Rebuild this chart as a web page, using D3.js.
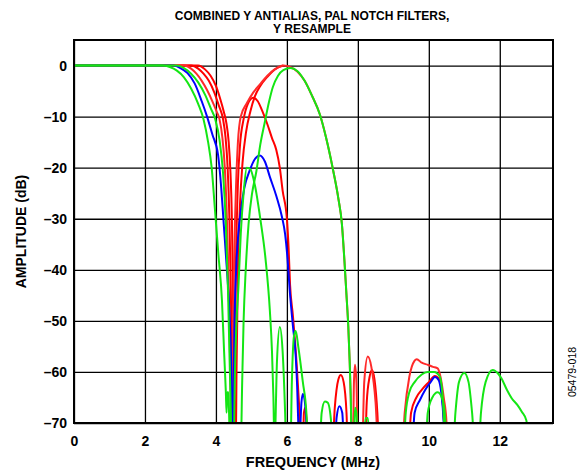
<!DOCTYPE html>
<meta charset="utf-8">
<style>
  body { margin: 0; background: #fff; }
  text { font-family: "Liberation Sans", Arial, sans-serif; }
</style>
<body>
  <div id="chart"></div>
</body>
<script src="https://cdn.jsdelivr.net/npm/d3@7"></script>
<script>
  var svg_width = 581,
      svg_height = 470;

  // tick values
  const freqTicks = [0, 2, 4, 6, 8, 10, 12];
  const dbTicks = [0, -10, -20, -30, -40, -50, -60, -70];

  // curves: [MHz, dB]  (points below -70 are clipped)
  const greenA = [[0,0],[2.5,0],[2.7,-0.3],[2.9,-1],[3.1,-2.3],[3.3,-4.5],[3.5,-7.5],[3.65,-10.5],[3.78,-15],[3.88,-20],
    [3.97,-28],[4.07,-37],[4.17,-46],[4.23,-56],[4.28,-64],[4.3,-68],[4.32,-64],[4.35,-64],[4.37,-68],[4.4,-75],
    [4.5,-75],[4.53,-62],[4.58,-50],[4.63,-44],[4.7,-33],[4.78,-25],[4.87,-20],[4.97,-20.3],[5.1,-23.5],[5.25,-30],
    [5.4,-38],[5.52,-48],[5.58,-56],[5.62,-65],[5.65,-75],
    [5.67,-72],[5.72,-58],[5.8,-51.2],[5.88,-56],[5.95,-68],[5.98,-75],
    [6.1,-75],[6.14,-62],[6.2,-53],[6.25,-52],[6.32,-55],[6.45,-62],[6.55,-68],[6.6,-75],
    [6.92,-75],[6.98,-68],[7.07,-65.8],[7.15,-66],[7.25,-70],[7.3,-75],
    [8.15,-75],[8.22,-69],[8.28,-69],[8.35,-75],
    [9.9,-75],[9.97,-68],[10.1,-65],[10.25,-64],[10.4,-65.8],[10.47,-70],[10.5,-75]];

  const greenB = [[0,0],[2.9,0],[3.1,-0.5],[3.3,-1.6],[3.5,-3.3],[3.7,-5.8],[3.85,-8.3],[3.98,-10.5],[4.1,-14.5],[4.2,-21],
    [4.28,-31],[4.34,-44],[4.38,-56],[4.42,-68],[4.44,-75],
    [4.7,-75],[4.74,-62],[4.78,-50],[4.84,-40],[4.92,-31],[5.02,-25],[5.14,-20.7],[5.25,-15.5],[5.38,-11],[5.5,-7],
    [5.6,-4.3],[5.75,-2],[5.9,-0.9],[6.1,-0.5],[6.3,-1.1],[6.5,-3],[6.7,-5.8],[6.93,-9.6],[7.1,-14],[7.3,-20.4],
    [7.45,-26],[7.55,-31],[7.62,-38],[7.68,-45],[7.73,-51],[7.77,-58],[7.8,-65],[7.83,-75],
    [7.88,-75],[7.92,-67],[7.96,-68],[8.0,-75],
    [9.28,-75],[9.35,-68],[9.45,-64],[9.6,-62],[9.8,-60.5],[9.97,-60],[10.15,-60],[10.3,-60.8],[10.38,-64],[10.43,-70],[10.46,-75],
    [10.68,-75],[10.75,-68],[10.85,-62],[11.0,-60.2],[11.12,-62],[11.22,-68],[11.3,-75],
    [11.4,-75],[11.47,-68],[11.6,-62],[11.8,-59.6],[11.95,-60.3],[12.05,-61.3],[12.2,-63.5],[12.34,-65.2],[12.5,-66.5],
    [12.62,-67.8],[12.75,-69.5],[12.8,-75]];

  const blueA = [[0,0],[2.8,0],[3.0,-0.5],[3.2,-1.5],[3.4,-3.5],[3.6,-7],[3.75,-10],[3.9,-13.5],[4.06,-17.5],[4.15,-24],
    [4.22,-31],[4.3,-39],[4.38,-48],[4.43,-58],[4.46,-68],[4.48,-75],[4.5,-66],[4.52,-52],[4.57,-40],[4.63,-33],
    [4.7,-28.5],[4.8,-24],[4.96,-20.4],[5.1,-18.3],[5.24,-17.6],[5.38,-18.8],[5.52,-21.8],[5.7,-25.5],[5.86,-29.6],
    [5.95,-33],[6.02,-38],[6.08,-44],[6.17,-51],[6.25,-57],[6.29,-63],[6.32,-70],[6.34,-75],
    [6.37,-72],[6.41,-66],[6.45,-64.3],[6.5,-65.5],[6.55,-70],[6.58,-75],
    [7.35,-75],[7.4,-69],[7.48,-66.7],[7.56,-68],[7.62,-75],
    [9.52,-75],[9.6,-68],[9.75,-65.5],[9.9,-63.5],[10.05,-62],[10.17,-61],[10.27,-61.5],[10.35,-64],[10.42,-70],[10.45,-75]];

  const redA = [[0,0],[3.1,0],[3.3,-0.6],[3.45,-1.6],[3.6,-3],[3.75,-4.8],[3.9,-7],[4.02,-9],[4.1,-10.5],[4.18,-14],
    [4.25,-20],[4.3,-28],[4.35,-40],[4.39,-54],[4.42,-66],[4.44,-75],
    [4.46,-75],[4.48,-55],[4.52,-36],[4.57,-23],[4.62,-15],[4.7,-10],[4.87,-7.4],[5.05,-5.3],[5.24,-3.7],[5.45,-2],
    [5.65,-0.8],[5.9,0],[6.1,-0.3],[6.3,-1.2],[6.5,-3],[6.7,-5.8],[6.93,-9.6],[7.1,-14],[7.3,-20.4],[7.45,-26],
    [7.55,-31],[7.62,-38],[7.68,-45],[7.73,-51],[7.77,-58],[7.8,-65],[7.83,-75],
    [7.86,-75],[7.89,-62],[7.92,-58.6],[7.96,-62],[8.0,-75],
    [8.12,-75],[8.18,-62],[8.28,-57],[8.38,-59],[8.5,-66],[8.58,-75],
    [9.25,-75],[9.32,-68],[9.45,-61],[9.6,-57.8],[9.66,-57.5],[9.8,-58.2],[9.97,-58.6],[10.12,-59],[10.25,-59.3],
    [10.33,-61],[10.42,-65],[10.5,-70],[10.53,-75]];

  const redB = [[0,0],[3.3,0],[3.5,-0.6],[3.65,-1.6],[3.8,-3],[3.95,-5.2],[4.08,-7.8],[4.2,-10.5],[4.27,-14],[4.33,-20],
    [4.38,-30],[4.42,-44],[4.45,-58],[4.47,-70],[4.48,-75],
    [4.5,-75],[4.52,-60],[4.56,-40],[4.62,-23],[4.68,-15.5],[4.78,-10.5],[4.9,-7.5],[5.05,-6.3],[5.18,-7],[5.3,-8.8],
    [5.45,-11.5],[5.58,-14.2],[5.7,-16.5],[5.8,-20],[5.88,-24.5],[6.0,-30],[6.05,-36],[6.09,-43],[6.17,-49],
    [6.28,-59],[6.34,-66],[6.37,-70],[6.4,-75],
    [6.45,-75],[6.48,-68],[6.52,-67],[6.56,-70],[6.6,-75],
    [7.28,-75],[7.35,-67],[7.45,-61.5],[7.52,-60.6],[7.6,-62],[7.68,-68],[7.72,-75],
    [8.2,-75],[8.25,-66],[8.33,-61],[8.4,-59.6],[8.47,-61.5],[8.55,-68],[8.6,-75],
    [9.42,-75],[9.5,-68],[9.65,-65],[9.8,-63.5],[10.0,-62],[10.17,-60.8],[10.3,-61.5],[10.37,-64],[10.43,-70],[10.47,-75]];

  const redC = [[0,0],[3.5,0],[3.7,-0.8],[3.85,-2],[4.0,-4],[4.12,-6.5],[4.22,-9],[4.3,-11.5],[4.36,-15],[4.41,-21],
    [4.45,-30],[4.48,-45],[4.51,-60],[4.53,-75],
    [4.56,-75],[4.58,-60],[4.62,-40],[4.68,-27],[4.75,-19],[4.85,-13],[4.97,-9],[5.1,-6],[5.25,-4],[5.45,-2.2],
    [5.65,-0.8],[5.9,0]];

  var series = [
    { data: redC, color: "#ff0000" },
    { data: redB, color: "#ff0000" },
    { data: redA, color: "#ff2a2a" },
    { data: blueA, color: "#0000ff" },
    { data: greenB, color: "#14e614" },
    { data: greenA, color: "#14e614" }
  ];

  var plotLeft = 74, plotRight = 553, plotTop = 40, plotBottom = 423;

  var x = d3.scaleLinear().domain([0, 13.5]).range([plotLeft, plotRight]);
  var y = d3.scaleLinear().domain([-70, 5]).range([plotBottom, plotTop]);

  var svg = d3.select("#chart").append("svg")
      .attr("width", svg_width)
      .attr("height", svg_height);

  svg.append("clipPath").attr("id", "plot")
    .append("rect")
      .attr("x", plotLeft).attr("y", plotTop)
      .attr("width", plotRight - plotLeft).attr("height", plotBottom - plotTop);

  // grid + tick labels
  var xAxis = svg.append("g")
      .attr("transform", "translate(0," + plotBottom + ")")
      .call(d3.axisBottom(x).tickValues(freqTicks).tickSize(-(plotBottom - plotTop)));
  var yAxis = svg.append("g")
      .attr("transform", "translate(" + plotLeft + ",0)")
      .call(d3.axisLeft(y).tickValues(dbTicks).tickSize(-(plotRight - plotLeft)).tickPadding(7)
        .tickFormat(function(d) { return d < 0 ? "\u2013" + (-d) : d; }));

  [xAxis, yAxis].forEach(function(a) {
    a.select(".domain").remove();
    a.selectAll(".tick line").attr("stroke", "#000").attr("stroke-width", 1.3);
    a.selectAll(".tick text")
      .attr("fill", "#000")
      .style("font-size", "14px")
      .style("font-weight", "bold");
  });
  // put the frequency labels on their baseline under the frame
  xAxis.selectAll(".tick text").attr("y", 23).attr("dy", null);

  var line = d3.line()
      .x(function(d) { return x(d[0]); })
      .y(function(d) { return y(d[1]); })
      .curve(d3.curveMonotoneX);

  svg.append("g")
      .attr("clip-path", "url(#plot)")
    .selectAll("path")
    .data(series)
    .enter()
      .append("path")
      .attr("d", function(d) { return line(d.data); })
      .style("fill", "none")
      .style("stroke", function(d) { return d.color; })
      .style("stroke-width", 2)
      .style("stroke-linejoin", "round");

  // frame
  svg.append("rect")
      .attr("x", plotLeft).attr("y", plotTop)
      .attr("width", plotRight - plotLeft).attr("height", plotBottom - plotTop)
      .style("fill", "none")
      .style("stroke", "#000")
      .style("stroke-width", 2);

  // titles
  svg.append("text")
      .attr("x", 312).attr("y", 20)
      .attr("text-anchor", "middle")
      .style("font-size", "12px").style("font-weight", "bold")
      .text("COMBINED Y ANTIALIAS, PAL NOTCH FILTERS,");
  svg.append("text")
      .attr("x", 312).attr("y", 33)
      .attr("text-anchor", "middle")
      .style("font-size", "12px").style("font-weight", "bold")
      .text("Y RESAMPLE");

  svg.append("text")
      .attr("x", 313).attr("y", 467)
      .attr("text-anchor", "middle")
      .style("font-size", "14.5px").style("font-weight", "bold")
      .text("FREQUENCY (MHz)");

  svg.append("text")
      .attr("transform", "translate(26," + ((plotTop + plotBottom) / 2) + ") rotate(-90)")
      .attr("text-anchor", "middle")
      .style("font-size", "14px").style("font-weight", "bold")
      .text("AMPLITUDE (dB)");

  svg.append("text")
      .attr("transform", "translate(576,372) rotate(-90)")
      .attr("text-anchor", "middle")
      .style("font-size", "10.5px")
      .text("05479-018");
</script>
